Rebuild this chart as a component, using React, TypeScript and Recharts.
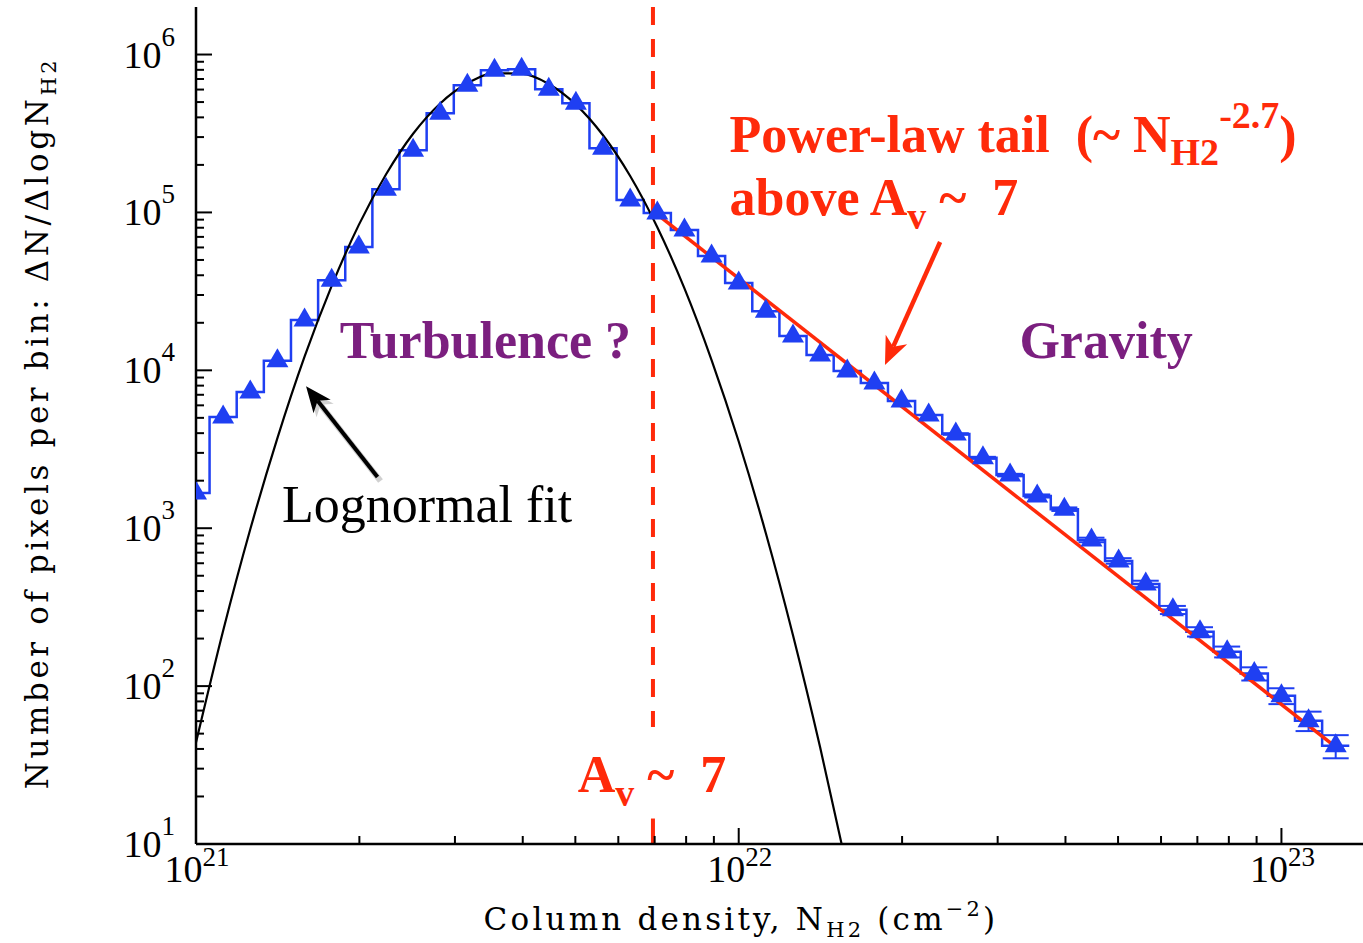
import React from 'react';
import {
  ComposedChart,
  Line,
  Scatter,
  XAxis,
  YAxis,
  ReferenceLine,
  ReferenceDot,
  ErrorBar,
} from 'recharts';

// ---------- data ----------
// histogram bin centres, log10 of column density (cm^-2)
const binLogN = [
  21.0, 21.05, 21.1, 21.15, 21.2, 21.25, 21.3, 21.35, 21.4, 21.45, 21.5,
  21.55, 21.6, 21.65, 21.7, 21.75, 21.8, 21.85, 21.9, 21.95, 22.0, 22.05,
  22.1, 22.15, 22.2, 22.25, 22.3, 22.35, 22.4, 22.45, 22.5, 22.55, 22.6,
  22.65, 22.7, 22.75, 22.8, 22.85, 22.9, 22.95, 23.0, 23.05, 23.1,
];
// pixels per bin (ΔN/ΔlogN)
const binCounts = [
  1673, 5060, 7300, 11500, 20800, 37200, 60300, 140000, 248000, 425000,
  640000, 796000, 807000, 603000, 492000, 255000, 120000, 99000, 77300,
  52900, 35700, 23700, 16500, 12500, 9900, 8320, 6400, 5220, 3950, 2790,
  2170, 1600, 1320, 843, 621, 444, 304, 221, 165, 120, 86.9, 60.4, 41.9,
];
// error bars (half length), null where invisible
const binErrors: (number | null)[] = [
  null, null, null, null, null, null, null, null, null, null, null, null,
  null, null, null, null, null, null, null, null, null, null, null, null,
  null, null, null, null, 45, 42, 40, 36, 34, 28, 25, 21, 18, 15, 13, 11.5,
  10, 8.5, 7,
];

// lognormal fit curve
const fitLogN = [
  21.0, 21.05, 21.1, 21.15, 21.2, 21.25, 21.3, 21.35, 21.4, 21.45, 21.5,
  21.55, 21.6, 21.65, 21.7, 21.75, 21.8, 21.85, 21.9, 21.95, 22.0, 22.05,
  22.1, 22.15, 22.2,
];
const fitCounts = [
  43.9, 224, 984, 3720, 12200, 34300, 83400, 174000, 315000, 490000, 657000,
  760000, 757000, 651000, 482000, 308000, 170000, 80600, 33000, 11600, 3540,
  929, 210, 41, 6.9,
];

// power-law tail (~N^-2.7)
const powerLawN = [7.0e21, 1.26e23];
const powerLawCounts = [1.0e5, 41];

// Av ~ 7 threshold
const avThresholdN = 6.95e21;

// axes
const xDomain: [number, number] = [1e21, 1.5e23];
const yDomain: [number, number] = [10, 2e6];
const xTicks = [
  1e21, 2e21, 3e21, 4e21, 5e21, 6e21, 7e21, 8e21, 9e21,
  1e22, 2e22, 3e22, 4e22, 5e22, 6e22, 7e22, 8e22, 9e22, 1e23,
];
const yTicks = [
  10, 20, 30, 40, 50, 60, 70, 80, 90,
  100, 200, 300, 400, 500, 600, 700, 800, 900,
  1e3, 2e3, 3e3, 4e3, 5e3, 6e3, 7e3, 8e3, 9e3,
  1e4, 2e4, 3e4, 4e4, 5e4, 6e4, 7e4, 8e4, 9e4,
  1e5, 2e5, 3e5, 4e5, 5e5, 6e5, 7e5, 8e5, 9e5, 1e6,
];

// annotation anchors (data coordinates)
const annPowerLaw = { x: 9.62e21, y: 2.41e5 };
const annAbove = { x: 9.62e21, y: 9.6e4 };
const annTurb = { x: 1.84e21, y: 1.2e4 };
const annGravity = { x: 3.29e22, y: 1.2e4 };
const annLognormal = { x: 1.44e21, y: 1100 };
const annAv = { x: 5.05e21, y: 21.4 };
const redArrow = { from: { x: 2.35e22, y: 6.5e4 }, to: { x: 1.86e22, y: 1.08e4 } };
const blackArrow = { from: { x: 2.16e21, y: 2110 }, to: { x: 1.595e21, y: 7940 } };

// ---------- derived series ----------
const halfBin = (binLogN[1] - binLogN[0]) / 2;
const histStep = [
  ...binLogN.map((c, i) => ({ x: Math.pow(10, c - halfBin), y: binCounts[i] })),
  {
    x: Math.pow(10, binLogN[binLogN.length - 1] + halfBin),
    y: binCounts[binCounts.length - 1],
  },
];
const histPoints = binLogN.map((c, i) => ({
  x: Math.pow(10, c),
  y: binCounts[i],
  err: binErrors[i],
}));
const fitData = fitLogN.map((c, i) => ({ x: Math.pow(10, c), y: fitCounts[i] }));
const powerLawData = powerLawN.map((n, i) => ({ x: n, y: powerLawCounts[i] }));

// ---------- styles ----------
const BLUE = '#1f3ff2';
const RED = '#ff2a0a';
const PURPLE = '#7b1f7f';
const SERIF = "'Liberation Serif', 'Times New Roman', serif";
const AXISFONT = "'DejaVu Serif', serif";

const isMajor = (v: number) =>
  Math.abs(Math.log10(v) - Math.round(Math.log10(v))) < 1e-9;
const expOf = (v: number) => Math.round(Math.log10(v));

function XTickBottom(props: any) {
  const { x, y, payload } = props;
  const v = payload.value;
  const major = isMajor(v);
  return (
    <g>
      <line x1={x} x2={x} y1={y} y2={y - (major ? 16 : 8)} stroke="#000" strokeWidth={2} />
      {major && (
        <text x={x + 1} y={y + 38} textAnchor="middle" fontFamily={SERIF} fontSize={38} fill="#000">
          10
          <tspan fontSize={27} dy={-16}>
            {expOf(v)}
          </tspan>
        </text>
      )}
    </g>
  );
}

function XTickTop(props: any) {
  const { x, y, payload } = props;
  const major = isMajor(payload.value);
  return <line x1={x} x2={x} y1={y} y2={y + (major ? 16 : 8)} stroke="#000" strokeWidth={2} />;
}

function YTickLeft(props: any) {
  const { x, y, payload } = props;
  const v = payload.value;
  const major = isMajor(v);
  return (
    <g>
      <line x1={x} x2={x + (major ? 16 : 8)} y1={y} y2={y} stroke="#000" strokeWidth={2} />
      {major && (
        <text x={x - 21} y={y + 13} textAnchor="end" fontFamily={SERIF} fontSize={38} fill="#000">
          10
          <tspan fontSize={27} dy={-22}>
            {expOf(v)}
          </tspan>
        </text>
      )}
    </g>
  );
}

function YTickRight(props: any) {
  const { x, y, payload } = props;
  const major = isMajor(payload.value);
  return <line x1={x} x2={x - (major ? 16 : 8)} y1={y} y2={y} stroke="#000" strokeWidth={2} />;
}

function XTitle(props: any) {
  const vb = props.viewBox || { x: 196, y: 844 };
  return (
    <text
      x={vb.x + 545}
      y={vb.y + 86}
      textAnchor="middle"
      fontFamily={AXISFONT}
      fontSize={31}
      letterSpacing={3.2}
      fill="#000"
    >
      Column density, N
      <tspan fontSize={21} dy={7}>
        H2
      </tspan>
      <tspan dy={-7}> (cm</tspan>
      <tspan fontSize={21} dy={-14}>
        −2
      </tspan>
      <tspan dy={14}>)</tspan>
    </text>
  );
}

function YTitle(props: any) {
  const cx = 48;
  const cy = 423;
  return (
    <text
      x={cx}
      y={cy}
      transform={`rotate(-90 ${cx} ${cy})`}
      textAnchor="middle"
      fontFamily={AXISFONT}
      fontSize={31}
      letterSpacing={3.6}
      fill="#000"
    >
      Number of pixels per bin: ΔN/ΔlogN
      <tspan fontSize={21} dy={8}>
        H2
      </tspan>
    </text>
  );
}

function Triangle(props: any) {
  const { cx, cy } = props;
  if (cx == null || cy == null) return null;
  return (
    <polygon
      points={`${cx},${cy - 12.5} ${cx - 11},${cy + 6.5} ${cx + 11},${cy + 6.5}`}
      fill={BLUE}
    />
  );
}

function arrowShape(color: string, width: number, head: number, shadow: boolean) {
  return (p: any) => {
    const { x1, y1, x2, y2 } = p;
    const dx = x2 - x1;
    const dy = y2 - y1;
    const len = Math.hypot(dx, dy) || 1;
    const ux = dx / len;
    const uy = dy / len;
    const nx = -uy;
    const ny = ux;
    const W = head * 0.42;
    const bx = x2 - ux * head;
    const by = y2 - uy * head;
    const mx = x2 - ux * head * 0.72;
    const my = y2 - uy * head * 0.72;
    const pts = `${x2},${y2} ${bx + nx * W},${by + ny * W} ${mx},${my} ${bx - nx * W},${by - ny * W}`;
    return (
      <g>
        {shadow && (
          <g transform="translate(3,4)" opacity={0.18}>
            <line x1={x1} y1={y1} x2={mx} y2={my} stroke="#000" strokeWidth={width + 2} />
            <polygon points={pts} fill="#000" />
          </g>
        )}
        <line x1={x1} y1={y1} x2={mx} y2={my} stroke={color} strokeWidth={width} />
        <polygon points={pts} fill={color} />
      </g>
    );
  };
}

function textShape(content: React.ReactNode, fill: string, bold: boolean) {
  return (p: any) => (
    <text
      x={p.cx}
      y={p.cy}
      fontFamily={SERIF}
      fontSize={52}
      fontWeight={bold ? 'bold' : 'normal'}
      fill={fill}
      style={{ whiteSpace: 'pre' }}
    >
      {content}
    </text>
  );
}

export default function App() {
  return (
    <div
      style={{
        position: 'absolute',
        left: 0,
        top: 0,
        width: 1363,
        height: 943,
        overflow: 'hidden',
        background: '#fff',
      }}
    >
      <ComposedChart width={1380} height={943} margin={{ top: 7, right: 3, bottom: 0, left: 0 }}>
        <XAxis
          dataKey="x"
          type="number"
          scale="log"
          domain={xDomain}
          allowDataOverflow
          ticks={xTicks}
          interval={0}
          tick={<XTickBottom />}
          tickLine={false}
          tickSize={0}
          tickMargin={0}
          height={99}
          axisLine={{ stroke: '#000', strokeWidth: 2.5 }}
          label={<XTitle />}
        />
        <XAxis
          xAxisId="top"
          orientation="top"
          dataKey="x"
          type="number"
          scale="log"
          domain={xDomain}
          allowDataOverflow
          ticks={xTicks}
          interval={0}
          tick={<XTickTop />}
          tickLine={false}
          tickSize={0}
          tickMargin={0}
          height={0}
          axisLine={{ stroke: '#000', strokeWidth: 2.5 }}
        />
        <YAxis
          type="number"
          scale="log"
          domain={yDomain}
          allowDataOverflow
          ticks={yTicks}
          interval={0}
          tick={<YTickLeft />}
          tickLine={false}
          tickSize={0}
          tickMargin={0}
          width={196}
          axisLine={{ stroke: '#000', strokeWidth: 2.5 }}
          label={<YTitle />}
        />
        <YAxis
          yAxisId="right"
          orientation="right"
          type="number"
          scale="log"
          domain={yDomain}
          allowDataOverflow
          ticks={yTicks}
          interval={0}
          tick={<YTickRight />}
          tickLine={false}
          tickSize={0}
          tickMargin={0}
          width={0}
          axisLine={{ stroke: '#000', strokeWidth: 2.5 }}
        />

        <Line
          data={histStep}
          dataKey="y"
          type="stepAfter"
          stroke={BLUE}
          strokeWidth={2.5}
          dot={false}
          activeDot={false}
          isAnimationActive={false}
        />
        <Scatter data={histPoints} dataKey="y" shape={<Triangle />} fill={BLUE} isAnimationActive={false}>
          <ErrorBar dataKey="err" direction="y" width={13} stroke={BLUE} strokeWidth={2} />
        </Scatter>
        <Line
          data={fitData}
          dataKey="y"
          type="monotone"
          stroke="#000"
          strokeWidth={2.2}
          dot={false}
          activeDot={false}
          isAnimationActive={false}
        />
        <Line
          data={powerLawData}
          dataKey="y"
          type="linear"
          stroke={RED}
          strokeWidth={3.5}
          dot={false}
          activeDot={false}
          isAnimationActive={false}
        />

        <ReferenceLine
          segment={[
            { x: avThresholdN, y: yDomain[1] },
            { x: avThresholdN, y: 55 },
          ]}
          stroke={RED}
          strokeWidth={4}
          strokeDasharray="18 14"
        />
        <ReferenceLine
          segment={[
            { x: avThresholdN, y: 14.5 },
            { x: avThresholdN, y: yDomain[0] },
          ]}
          stroke={RED}
          strokeWidth={4}
        />

        <ReferenceLine
          segment={[redArrow.from, redArrow.to]}
          shape={arrowShape(RED, 4.5, 28, false)}
        />
        <ReferenceLine
          segment={[blackArrow.from, blackArrow.to]}
          shape={arrowShape('#000', 4, 26, true)}
        />

        <ReferenceDot
          x={annPowerLaw.x}
          y={annPowerLaw.y}
          r={0}
          shape={textShape(
            <>
              <tspan>{'Power-law tail  (~ N'}</tspan>
              <tspan fontSize={38} dy={13}>
                H2
              </tspan>
              <tspan fontSize={38} dy={-37}>
                -2.7
              </tspan>
              <tspan dy={24}>)</tspan>
            </>,
            RED,
            true
          )}
        />
        <ReferenceDot
          x={annAbove.x}
          y={annAbove.y}
          r={0}
          shape={textShape(
            <>
              <tspan>above A</tspan>
              <tspan fontSize={38} dy={14}>
                v
              </tspan>
              <tspan dy={-14}>{' ~  7'}</tspan>
            </>,
            RED,
            true
          )}
        />
        <ReferenceDot
          x={annTurb.x}
          y={annTurb.y}
          r={0}
          shape={textShape('Turbulence ?', PURPLE, true)}
        />
        <ReferenceDot
          x={annGravity.x}
          y={annGravity.y}
          r={0}
          shape={textShape('Gravity', PURPLE, true)}
        />
        <ReferenceDot
          x={annLognormal.x}
          y={annLognormal.y}
          r={0}
          shape={textShape('Lognormal fit', '#000', false)}
        />
        <ReferenceDot
          x={annAv.x}
          y={annAv.y}
          r={0}
          shape={textShape(
            <>
              <tspan>A</tspan>
              <tspan fontSize={38} dy={14}>
                v
              </tspan>
              <tspan dy={-14}>{' ~  7'}</tspan>
            </>,
            RED,
            true
          )}
        />
      </ComposedChart>
    </div>
  );
}
